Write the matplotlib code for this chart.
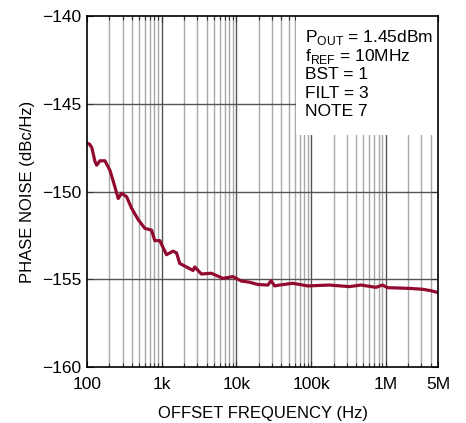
import numpy as np
import matplotlib
matplotlib.use("Agg")
import matplotlib.pyplot as plt
from matplotlib.patches import Rectangle

# -----------------------------
# Data
# -----------------------------
freq_hz = [100, 108, 116, 128, 135, 149, 174, 203, 224, 262, 291, 339, 395, 484,
           595, 731, 809, 943, 1160, 1420, 1580, 1745, 2630, 2770, 3400, 4620,
           6600, 8980, 11600, 15000, 19400, 26400, 29200, 32400, 37800, 56800,
           90100, 175000, 324000, 465000, 738000, 904000, 1054000, 2055000,
           3090000, 4000000, 5000000]
noise_dbc = [-147.25, -147.3, -147.5, -148.3, -148.5, -148.25, -148.25, -148.8,
             -149.4, -150.4, -150.1, -150.3, -150.95, -151.6, -152.1, -152.2,
             -152.8, -152.8, -153.6, -153.4, -153.5, -154.1, -154.5, -154.3,
             -154.7, -154.66, -154.95, -154.85, -155.1, -155.17, -155.3,
             -155.33, -155.08, -155.38, -155.33, -155.23, -155.38, -155.33,
             -155.42, -155.33, -155.46, -155.33, -155.48, -155.52, -155.57,
             -155.65, -155.76]

x_ticks = [100, 1e3, 1e4, 1e5, 1e6, 5e6]
x_labels = ["100", "1k", "10k", "100k", "1M", "5M"]
y_ticks = [-160, -155, -150, -145, -140]

notes = [r"P$_{\mathregular{OUT}}$ = 1.45dBm", r"f$_{\mathregular{REF}}$ = 10MHz",
         "BST = 1", "FILT = 3", "NOTE 7"]

plt.rcParams['font.family'] = ['Liberation Sans', 'DejaVu Sans']
plt.rcParams['mathtext.fontset'] = 'custom'
plt.rcParams['mathtext.rm'] = 'Liberation Sans'

fig = plt.figure(figsize=(4.66, 4.23), dpi=100)
ax = fig.add_axes([87 / 466, 1 - 367 / 423, 351 / 466, 351 / 423])
ax.set_xscale("log")
ax.set_xlim(100, 5e6)
ax.set_ylim(-160, -140)

# grid lines drawn by hand so the note box can hide them
minor = [m * 10 ** d for d in range(2, 7) for m in range(2, 10) if m * 10 ** d < 5e6]
for f in minor:
    ax.axvline(f, color="#a8a8a8", lw=1.0, zorder=1)
for f in [1e3, 1e4, 1e5, 1e6]:
    ax.axvline(f, color="#555555", lw=1.0, zorder=1)
for y in y_ticks[1:-1]:
    ax.axhline(y, color="#555555", lw=1.0, zorder=1)

ax.add_patch(Rectangle((6.3e4, -146.8), 5e6 - 6.3e4, 6.8, facecolor="white",
                       edgecolor="none", zorder=2))

ax.plot(freq_hz, noise_dbc, color="#930a30", lw=2.3, zorder=4,
        solid_joinstyle="round")

ax.set_xticks(x_ticks)
ax.set_xticklabels(x_labels)
ax.set_xticks(minor, minor=True)
ax.xaxis.set_minor_formatter(plt.NullFormatter())
ax.set_yticks(y_ticks)
ax.set_yticklabels(["\u2212%d" % -v for v in y_ticks])
ax.tick_params(which="both", direction="in", top=True, right=True,
               labelsize=12.5, pad=4, width=0.8, color="#333333")
ax.tick_params(axis="x", which="major", pad=7)
ax.tick_params(which="major", length=4)
ax.tick_params(which="minor", length=3)
for s in ax.spines.values():
    s.set_linewidth(1.2)
    s.set_zorder(5)

ax.set_xlabel("OFFSET FREQUENCY (Hz)", fontsize=12, labelpad=10)
ax.set_ylabel("PHASE NOISE (dBc/Hz)", fontsize=12, labelpad=5)

for i, line in enumerate(notes):
    ax.text(8.2e4, -141.25 - i * 1.05, line, fontsize=12.5, va="center",
            ha="left", zorder=6)

fig.savefig("out.png", dpi=100)
